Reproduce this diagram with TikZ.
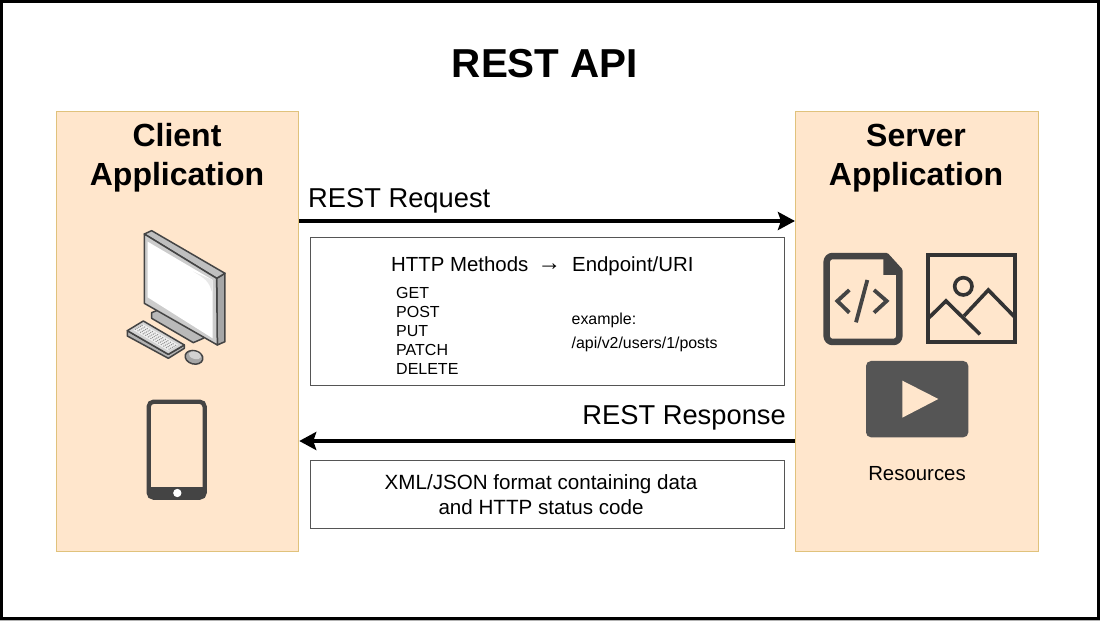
\documentclass[tikz,border=0pt]{standalone}
\usepackage{fontspec}
\setmainfont{Liberation Sans}
\usetikzlibrary{arrows.meta,calc}
\definecolor{panelfill}{HTML}{FFE6CC}
\definecolor{paneledge}{HTML}{E0C27C}
\definecolor{icondark}{HTML}{444444}
\definecolor{videofill}{HTML}{555555}
\definecolor{boxedge}{HTML}{555555}
\tikzset{
  panel/.style={draw=paneledge,fill=panelfill,line width=1.1pt},
  infobox/.style={draw=boxedge,fill=white,line width=.8pt},
  flow/.style={draw=black,line width=4.5pt,-{Stealth[length=17pt,width=18pt,inset=3pt]}},
  txt/.style={inner sep=0pt,anchor=base west,text=black},
  ctxt/.style={inner sep=0pt,anchor=base,text=black,align=center}
}
\newcommand{\fs}[1]{\fontsize{#1}{#1}\selectfont}
\begin{document}
\begin{tikzpicture}[x=1pt,y=-1pt]
\useasboundingbox (0,0) rectangle (1100,621);
\fill[white] (0,0) rectangle (1100,621);
\fill[gray!60] (0,619.5) rectangle (1100,621);
\draw[black,line width=3pt] (1.2,1.5) rectangle (1098.5,618.3);
\node[ctxt,font=\fs{40.4}\bfseries] (title) at (545,77) {REST API};
\node[panel,minimum width=242.6pt,minimum height=440pt,inner sep=0pt] (client) at (177.4,331.5) {};
\node[panel,minimum width=243pt,minimum height=440pt,inner sep=0pt] (server) at (917,331.5) {};
\node[ctxt,font=\fs{32}\bfseries] (clientA) at (177,146) {Client};
\node[ctxt,font=\fs{32}\bfseries] (clientB) at (177,185) {Application};
\node[ctxt,font=\fs{32}\bfseries] (serverA) at (916,146) {Server};
\node[ctxt,font=\fs{32}\bfseries] (serverB) at (916,185) {Application};
\coordinate (reqS) at (client.east|-0,221);
\coordinate (reqE) at (server.west|-0,221);
\coordinate (resS) at (server.west|-0,441);
\coordinate (resE) at (client.east|-0,441);
\draw[flow] (reqS) -- (reqE);
\draw[flow] (resS) -- (resE);
\node[txt,font=\fs{27.3}] (reqL) at (308,207) {REST Request};
\node[txt,font=\fs{27.3},anchor=base east] (resL) at (786,424) {REST Response};
\node[infobox,minimum width=474pt,minimum height=148pt,inner sep=0pt] (box1) at (547.5,311.5) {};
\node[infobox,minimum width=474pt,minimum height=68pt,inner sep=0pt] (box2) at (547.5,494.5) {};
\node[txt,font=\fs{20.4}] (http) at (391,271) {HTTP Methods};
\node[txt,font=\fs{23.5}] (arrowsym) at (537.5,270.5) {→};
\node[txt,font=\fs{20.4}] (ep) at (572,271) {Endpoint/URI};
\node[txt,font=\fs{16}] (m1) at (396,298) {GET};
\node[txt,font=\fs{16}] (m2) at (396,317) {POST};
\node[txt,font=\fs{16}] (m3) at (396,336) {PUT};
\node[txt,font=\fs{16}] (m4) at (396,355) {PATCH};
\node[txt,font=\fs{16}] (m5) at (396,374) {DELETE};
\node[txt,font=\fs{15.9}] (ex1) at (571.5,324) {example:};
\node[txt,font=\fs{15.9}] (ex2) at (571.5,348) {/api/v2/users/1/posts};
\node[ctxt,font=\fs{20.6}] (x1) at (541,489) {XML/JSON format containing data};
\node[ctxt,font=\fs{20.6}] (x2) at (541,514) {and HTTP status code};
\node[ctxt,font=\fs{20.4}] (resr) at (917,480) {Resources};
% monitor
\begin{scope}[xshift=100pt,yshift=-210pt,x=.3333pt,y=-.3333pt,draw=icondark,line width=1.5pt,line join=round]
\filldraw[fill=gray!55] (155,325)--(155,308)--(180,298)--(310,378)--(310,385)--(280,398)--cycle;
\filldraw[fill=gray!70] (350,205)--(375,190)--(375,395)--(352,405)--cycle;
\filldraw[fill=gray!50] (133,72)--(155,62)--(375,190)--(350,205)--cycle;
\filldraw[fill=gray!40] (133,72)--(350,205)--(352,405)--(133,280)--cycle;
\fill[white] (143,95)--(338,210)--(338,385)--(143,262)--cycle;
\fill[gray!18] (280,185)..controls (315,205) and (328,215) ..(335,245)--(338,210)--cycle;
\filldraw[fill=gray!60] (82,362)--(82,378)--(205,445)--(253,415)--(253,405)--(205,433)--cycle;
\filldraw[fill=gray!35] (82,362)--(130,333)--(253,405)--(205,433)--cycle;
\fill[gray!12] (100,360)--(130,343)--(235,405)--(205,422)--cycle;
\foreach \k in {1,...,5} {\draw[gray!90,line width=1pt,dotted] ($(100,360)!\k/6!(130,343)$) -- ($(205,422)!\k/6!(235,405)$);}
\filldraw[fill=gray!70,rotate around={-15:(282,442)}] (282,442) ellipse [x radius=27,y radius=20];
\fill[gray!35,rotate around={-15:(285,436)}] (285,436) ellipse [x radius=19,y radius=11];
\end{scope}
% phone
\begin{scope}[xshift=130pt,yshift=-390pt,x=.3333pt,y=-.3333pt]
\draw[icondark,line width=4.3pt,rounded corners=5pt] (56,35) rectangle (224,323);
\fill[icondark] (56,292) rectangle (224,323);
\fill[white] (142,309) circle [radius=12.5];
\end{scope}
% doc icon
\begin{scope}[xshift=810pt,yshift=-240pt,x=.3333pt,y=-.3333pt,icondark]
\draw[line width=6.5pt,line join=round] (228,48) [rounded corners=6pt] -- (50,48) -- (50,306) -- (268,306) [sharp corners] -- (268,92) -- cycle;
\fill (220,45)--(228,45)--(270,92)--(270,105)--(220,105)--cycle;
\draw[line width=3.8pt] (118,150)--(82,183)--(118,218);
\draw[line width=3.8pt] (192,150)--(230,183)--(192,218);
\draw[line width=3.8pt] (172,120)--(138,247);
\draw[draw=black!80,line width=3.8pt] (353,45) rectangle (616,307);
\draw[black!80,line width=3.6pt] (460,139) circle [radius=26];
\draw[black!80,line width=3.6pt] (355,235)--(408,183)--(510,283);
\draw[black!80,line width=3.6pt] (462,228)--(535,150)--(615,232);
\fill[videofill,rounded corners=5pt] (168,363) rectangle (475,592);
\fill[panelfill] (277,422)--(385,477)--(277,533)--cycle;
\end{scope}
\end{tikzpicture}
\end{document}
